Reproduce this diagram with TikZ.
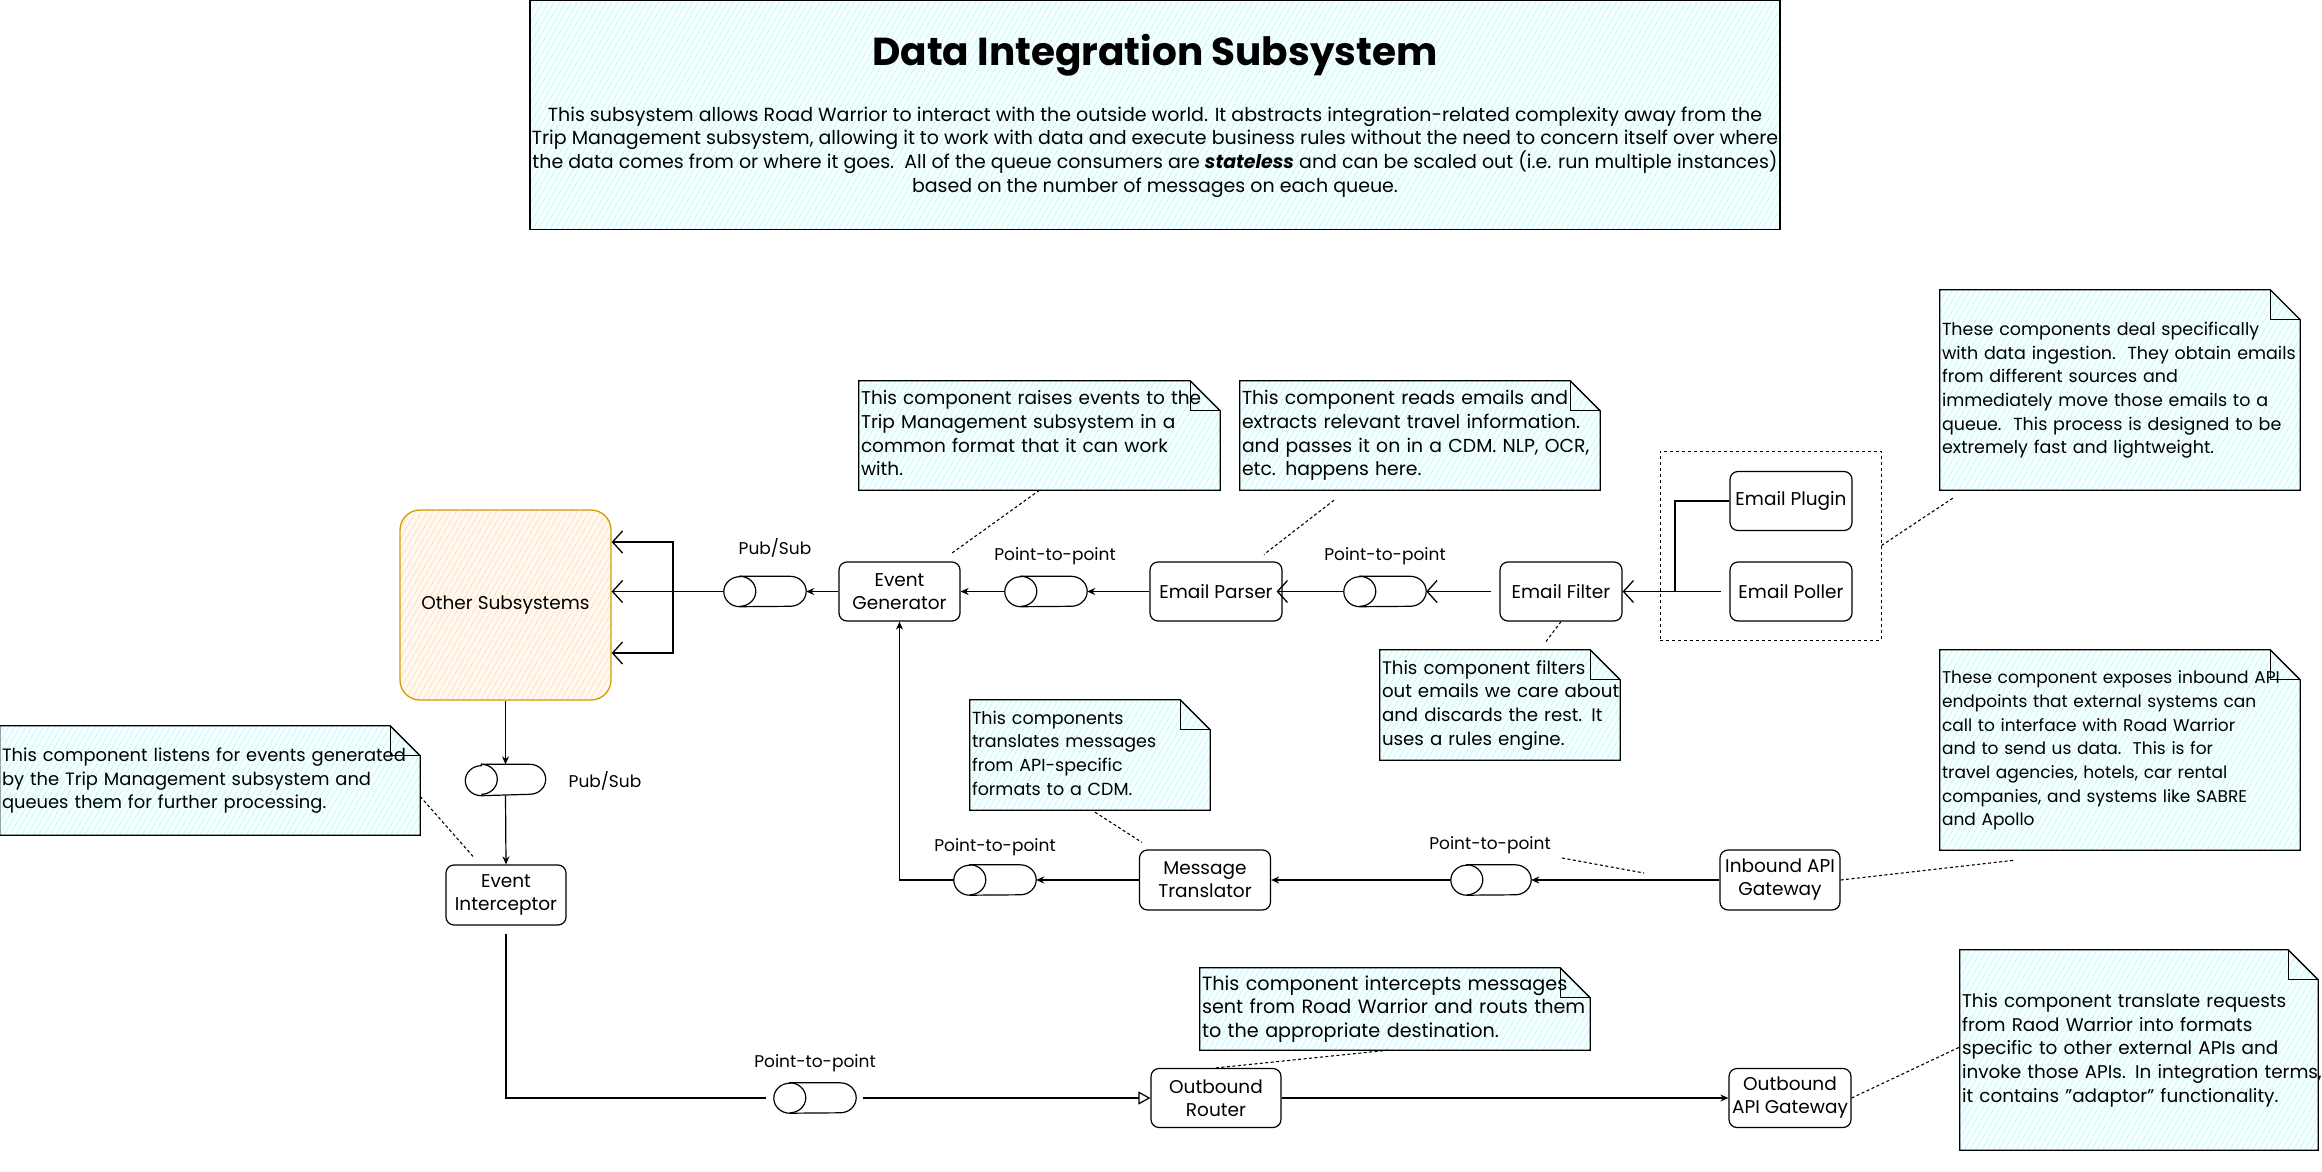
\documentclass[tikz,border=0pt]{standalone}
\usepackage{fontspec}
\setmainfont{Poppins}
\usetikzlibrary{arrows.meta,patterns.meta,backgrounds,calc}
\definecolor{notehatch}{RGB}{190,246,246}
\definecolor{notefill}{RGB}{245,255,255}
\definecolor{oshatch}{RGB}{255,218,180}
\definecolor{osfill}{RGB}{255,249,242}
\definecolor{osborder}{RGB}{215,155,0}
\newcommand\nodefont{\fontsize{18.5}{23}\selectfont}
\newcommand\nf[1]{\fontsize{#1}{23.7}\selectfont}
\newcommand\notebg[1]{%
  \path[noteshape] (#1.north west) -- ([xshift=-30pt]#1.north east) -- ([yshift=-30pt]#1.north east) -- (#1.south east) -- (#1.south west) -- cycle;
  \draw[line width=1.3pt] ([xshift=-30pt]#1.north east) -- ([xshift=-30pt,yshift=-30pt]#1.north east) -- ([yshift=-30pt]#1.north east);}
\newcommand\drawqueue[1]{%
  \draw[qline] ([xshift=16pt]#1.north west) -- ([xshift=-16pt]#1.north east)
    arc[start angle=90,end angle=-90,x radius=16pt,y radius=15pt]
    -- ([xshift=16pt]#1.south west)
    arc[start angle=270,end angle=90,x radius=16pt,y radius=15pt] -- cycle;
  \draw[line width=1.2pt] ([xshift=16pt]#1.north west) arc[start angle=90,end angle=-90,x radius=16pt,y radius=15pt];}
\tikzset{
  box/.style={draw, line width=1.2pt, rounded corners=8pt, fill=white, minimum height=59pt, align=center, inner sep=1pt, font=\nodefont},
  queue/.style={minimum width=82pt, minimum height=30pt, inner sep=0pt},
  qline/.style={draw, line width=1.2pt, fill=white},
  lbl/.style={font=\fontsize{17}{22}\selectfont, inner sep=1pt},
  notetext/.style={inner xsep=2pt, inner ysep=0pt, align=left},
  noteshape/.style={draw, line width=1.3pt, preaction={fill=notefill}, pattern={Lines[angle=60,distance=5pt,line width=0.6pt]}, pattern color=notehatch},
  conn/.style={line width=1.2pt, solid},
  sarr/.style={conn, -{Stealth[length=8pt,width=7pt]}},
  barr/.style={conn, -{Straight Barb[length=10pt,width=22pt,line width=1.3pt]}},
  tarr/.style={conn, -{Triangle[open,length=12pt,width=13pt,line width=1.2pt]}},
  dotl/.style={line width=1.1pt, dash pattern=on 3pt off 2.5pt},
}
\begin{document}
\begin{tikzpicture}[x=1pt,y=-1pt]
\useasboundingbox (0,0) rectangle (2322,1172);
% title
\node[draw, line width=1.3pt, preaction={fill=notefill}, pattern={Lines[angle=60,distance=5pt,line width=0.6pt]}, pattern color=notehatch, minimum width=1250pt, minimum height=229pt, inner sep=0pt] (tb) at (1155,115) {};
\node[font=\fontsize{39}{44}\selectfont\bfseries] (title) at (1155,55) {Data Integration Subsystem};
\node[align=center, font=\nf{19}] (desc) at (1155,152) {This subsystem allows Road Warrior to interact with the outside world. It abstracts integration-related complexity away from the\\Trip Management subsystem, allowing it to work with data and execute business rules without the need to concern itself over where\\the data comes from or where it goes.\ \ All of the queue consumers are \textbf{\textit{stateless}} and can be scaled out (i.e. run multiple instances)\\based on the number of messages on each queue.};

% main nodes
\node[draw=osborder, line width=1.3pt, rounded corners=20pt, preaction={fill=osfill}, pattern={Lines[angle=60,distance=5pt,line width=0.6pt]}, pattern color=oshatch, minimum width=211pt, minimum height=190pt, font=\nodefont] (os) at (505.5,605) {Other Subsystems};
\node[box, minimum width=121pt] (eg) at (899.5,591.5) {Event\\Generator};
\node[box, minimum width=132pt] (ep) at (1216,591.5) {Email Parser};
\node[box, minimum width=122pt] (ef) at (1561,591.5) {Email Filter};
\node[draw, line width=1pt, dash pattern=on 3pt off 3pt, minimum width=221pt, minimum height=189pt] (grp) at (1770.5,545.5) {};
\node[box, minimum width=122pt] (plug) at (1791,501) {Email Plugin};
\node[box, minimum width=122pt] (poll) at (1791,591.5) {Email Poller};
\node[box, minimum width=120pt, minimum height=60pt] (ei) at (506,895) {Event\\Interceptor};
\node[box, minimum width=131pt, minimum height=60pt] (mt) at (1205,880) {Message\\Translator};
\node[box, minimum width=120pt, minimum height=60pt] (iag) at (1780,880) {Inbound API\\Gateway};
\node[box, minimum width=130pt] (or) at (1216,1098) {Outbound\\Router};
\node[box, minimum width=122pt] (oag) at (1790,1098) {Outbound\\API Gateway};

% queues
\node[queue] (q1) at (765,591.5) {};
\node[queue] (q2) at (1046,591.5) {};
\node[queue] (q3) at (1385,591.5) {};
\node[queue, minimum width=80pt, minimum height=31pt] (q4) at (505.5,780) {};
\node[queue] (q5) at (995,880) {};
\node[queue, minimum width=80pt] (q6) at (1491,880) {};
\node[queue] (q7) at (815,1098) {};
\drawqueue{q1}\drawqueue{q2}\drawqueue{q3}\drawqueue{q4}\drawqueue{q5}\drawqueue{q6}\drawqueue{q7}

% labels
\node[lbl] (l1) at (775,548) {Pub/Sub};
\node[lbl] (l2) at (1055,556) {Point-to-point};
\node[lbl] (l3) at (1385,556) {Point-to-point};
\node[lbl] (l4) at (605,781) {Pub/Sub};
\node[lbl] (l5) at (995,847) {Point-to-point};
\node[lbl] (l6) at (1490,845) {Point-to-point};
\node[lbl] (l7) at (815,1063) {Point-to-point};

% notes
\node[notetext, font=\nf{17.5}, text width=356pt, minimum height=200pt] (ntr) at (2120,390) {\begin{tabular}{@{}l@{}}These components deal specifically\\with data ingestion.\ \ They obtain emails\\from different sources and\\immediately move those emails to a\\queue.\ \ This process is designed to be\\extremely fast and lightweight.\end{tabular}};
\node[notetext, font=\nf{18.5}, text width=357pt, minimum height=109pt] (neg) at (1039.5,435.5) {\begin{tabular}{@{}l@{}}This component raises events to the\\Trip Management subsystem in a\\common format that it can work\\with.\end{tabular}};
\node[notetext, font=\nf{18.8}, text width=356pt, minimum height=109pt] (nep) at (1420,435.5) {\begin{tabular}{@{}l@{}}This component reads emails and\\extracts relevant travel information.\\and passes it on in a CDM. NLP, OCR,\\etc. happens here.\end{tabular}};
\node[notetext, font=\nf{18.2}, text width=236pt, minimum height=110pt] (nef) at (1500,705) {\begin{tabular}{@{}l@{}}This component filters\\out emails we care about\\and discards the rest. It\\uses a rules engine.\end{tabular}};
\node[notetext, font=\nf{17.5}, text width=236pt, minimum height=110pt] (nmt) at (1090,755) {\begin{tabular}{@{}l@{}}This components\\translates messages\\from API-specific\\formats to a CDM.\end{tabular}};
\node[notetext, font=\nf{17}, text width=356pt, minimum height=200pt] (niag) at (2120,750) {\begin{tabular}{@{}l@{}}These component exposes inbound API\\endpoints that external systems can\\call to interface with Road Warrior\\and to send us data.\ \ This is for\\travel agencies, hotels, car rental\\companies, and systems like SABRE\\and Apollo\end{tabular}};
\node[notetext, font=\nf{17.9}, text width=416pt, minimum height=109pt] (nei) at (210,780.5) {\begin{tabular}{@{}l@{}}This component listens for events generated\\by the Trip Management subsystem and\\queues them for further processing.\end{tabular}};
\node[notetext, font=\nf{19.2}, text width=386pt, minimum height=82pt] (nor) at (1395,1009) {\begin{tabular}{@{}l@{}}This component intercepts messages\\sent from Road Warrior and routs them\\to the appropriate destination.\end{tabular}};
\node[notetext, font=\nf{18.4}, text width=354pt, minimum height=200pt] (noag) at (2139,1050) {\begin{tabular}{@{}l@{}}This component translate requests\\from Raod Warrior into formats\\specific to other external APIs and\\invoke those APIs. In integration terms,\\it contains "adaptor" functionality.\end{tabular}};
\begin{scope}[on background layer]
\notebg{ntr}\notebg{neg}\notebg{nep}\notebg{nef}\notebg{nmt}\notebg{niag}\notebg{nei}\notebg{nor}\notebg{noag}
\end{scope}

% connectors
\coordinate (j1) at (673,591.5);
\draw[conn] (q1.west) -- (j1);
\draw[barr] (j1) |- ([yshift=63pt]os.east);
\draw[barr] (j1) -- (os.east |- j1);
\draw[barr] (j1) |- ([yshift=-48pt]os.east);
\draw[sarr] (eg.west) -- (q1.east);
\draw[sarr] (q2.west) -- (eg.east);
\draw[sarr] (ep.west) -- (q2.east);
\draw[barr, shorten >=-6pt] (q3.west) -- (ep.east);
\draw[barr, shorten <=8pt] (ef.west) -- (q3.east);
\coordinate (j2) at (1675,591.5);
\draw[barr, shorten <=8pt] (poll.west) -- (ef.east);
\draw[conn] (plug.west) -| (j2);
\draw[sarr] (os.south) -- (q4.north);
\draw[sarr] (q4.south) -- (ei.north);
\draw[conn, shorten <=8pt, shorten >=8pt] (ei.south) |- (q7.west);
\draw[tarr, shorten <=7pt] (q7.east) -- (or.west);
\draw[sarr] (or.east) -- (oag.west);
\draw[sarr] (mt.west) -- (q5.east);
\draw[sarr] (q5.west) -| (eg.south);
\draw[sarr] (iag.west) -- (q6.east);
\draw[sarr] (q6.west) -- (mt.east);

% dotted note links
\draw[dotl] (neg.south) -- ($(eg.north)+(52,-8)$);
\draw[dotl] ($(nep.south)+(-86,10)$) -- ($(ep.north)+(48,-7)$);
\draw[dotl] (ef.south) -- ($(nef.north)+(45,-7)$);
\draw[dotl] (grp.east) -- ($(ntr.south west)+(13,8)$);
\draw[dotl] ($(nmt.south)+(5,2)$) -- ($(mt.north west)+(3,-7)$);
\coordinate (s1) at (1562,858);
\coordinate (s2) at (1644,873);
\draw[dotl] (s1) -- (s2);
\draw[dotl] (iag.east) -- ($(niag.south west)+(75,10)$);
\draw[dotl] ($(nei.east)+(0,16)$) -- ($(ei.north)+(-33,-8)$);
\draw[dotl] (or.north) -- ($(nor.south)+(-7,0)$);
\draw[dotl] (oag.east) -- ($(noag.west)+(0,-3)$);
\end{tikzpicture}
\end{document}
